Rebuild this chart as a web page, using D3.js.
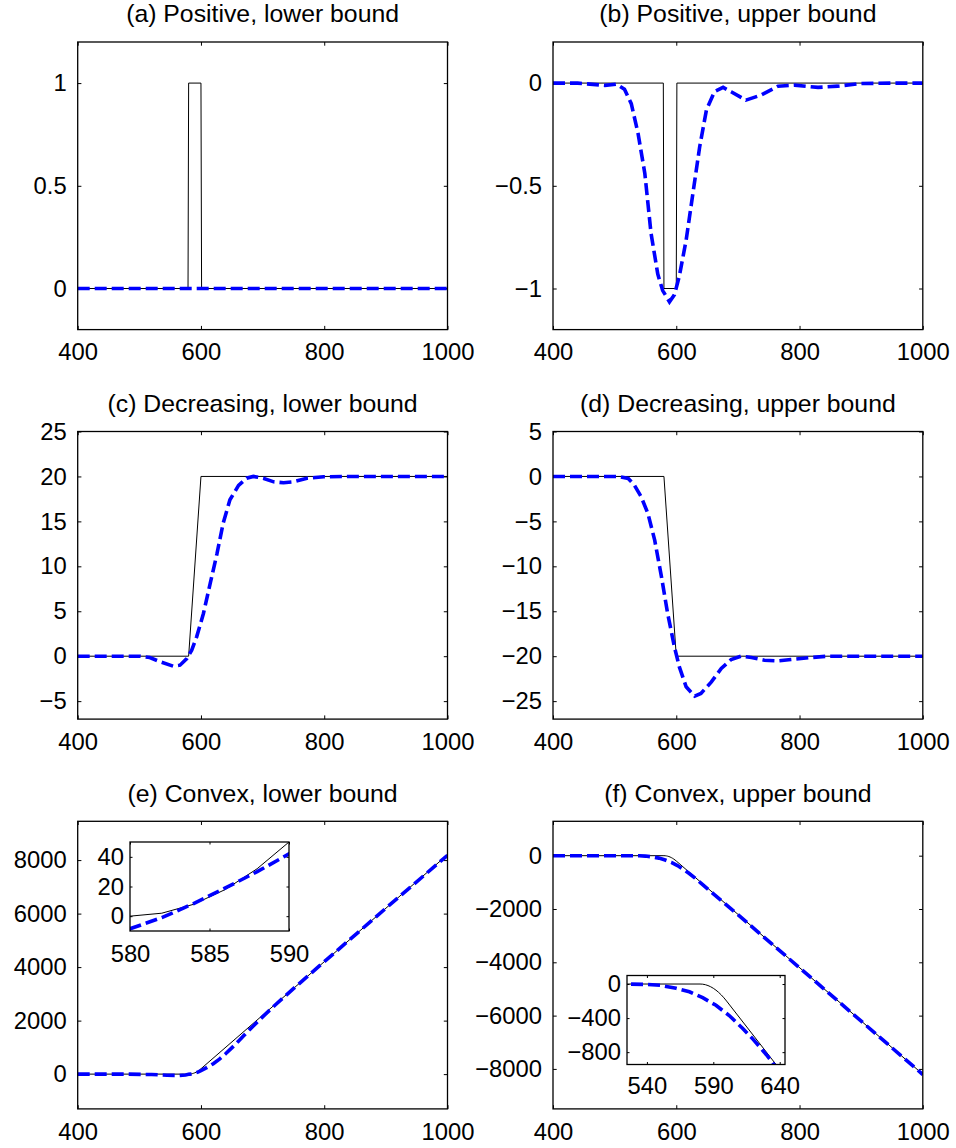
<!DOCTYPE html>
<html>
<head>
<meta charset="utf-8">
<script src="https://cdn.jsdelivr.net/npm/d3@7"></script>
<style>
  body { margin: 0; background: #fff; }
  text { font-family: "Liberation Sans", Arial, Helvetica, sans-serif; fill: #000; }
</style>
</head>
<body>
<script>
//// Six panels: true function (black) vs. bound estimate (blue dashed) ////

// (a) Positive, lower bound
const trueA = [[400, 0], [579, 0], [580, 1], [600, 1], [601, 0], [1000, 0]];
const estA = [[400, 0], [1000, 0]];

// (b) Positive, upper bound
const trueB = [[400, 0], [579, 0], [580, -1], [600, -1], [601, 0], [1000, 0]];
const estB = [[400, 0], [440, 0], [484, -0.011], [503, -0.005], [516, -0.03], [527, -0.1],
  [538, -0.245], [549, -0.44], [559, -0.73], [570, -0.93], [578, -1.01], [589, -1.065],
  [597, -1.03], [605, -0.94], [616, -0.765], [627, -0.537], [638, -0.31], [649, -0.13],
  [662, -0.042], [676, -0.021], [689, -0.042], [713, -0.083], [738, -0.058], [765, -0.015],
  [792, -0.01], [830, -0.021], [862, -0.015], [900, -0.002], [954, 0], [1000, 0]];

// (c) Decreasing, lower bound
const trueC = [[400, 0], [580, 0], [600, 20], [1000, 20]];
const estC = [[400, 0], [501, 0], [517, -0.15], [534, -0.63], [555, -1.11], [566, -1.0],
  [577, -0.26], [585, 0.67], [593, 2.15], [604, 4.75], [615, 8.1], [626, 11.4], [636, 14.8],
  [647, 17.4], [661, 19.0], [674, 19.8], [685, 20], [701, 19.8], [718, 19.4], [734, 19.3],
  [750, 19.4], [772, 19.8], [799, 19.96], [842, 20], [1000, 20]];

// (d) Decreasing, upper bound
const trueD = [[400, 0], [580, 0], [600, -20], [1000, -20]];
const estD = [[400, 0], [505, 0], [522, -0.22], [532, -0.96], [543, -2.26], [554, -4.12],
  [565, -7.09], [576, -11.17], [586, -15.25], [597, -18.96], [605, -21.19], [616, -23.4],
  [630, -24.45], [640, -24.15], [657, -22.86], [673, -21.37], [689, -20.37], [705, -20],
  [722, -20.15], [743, -20.45], [765, -20.52], [786, -20.37], [819, -20.15], [846, -20],
  [1000, -20]];

// (e) Convex, lower bound
const trueE = [[400, 0], [580, 0], [582, 2], [584, 8], [586, 18], [588, 32], [590, 50],
  [592, 72], [594, 98], [596, 128], [598, 162], [600, 200], [1000, 8200]];
const estE = [[400, 0], [480, 0], [520, -15], [545, -40], [565, -50], [575, -30], [580, -8.5],
  [582, -1], [584, 8.5], [586, 19], [588, 30], [590, 42], [595, 75], [600, 130], [610, 250],
  [620, 390], [630, 560], [640, 760], [650, 980], [660, 1210], [670, 1450], [680, 1690],
  [700, 2140], [720, 2575], [750, 3195], [800, 4200], [900, 6200], [1000, 8180]];

// (f) Convex, upper bound
const trueF = [[400, 0], [580, 0], [582, -2], [584, -8], [586, -18], [588, -32], [590, -50],
  [592, -72], [594, -98], [596, -128], [598, -162], [600, -200], [1000, -8200]];
const estF = [[400, 0], [500, 0], [525, -1], [540, -5], [550, -15], [562, -50], [572, -91],
  [582, -160], [592, -250], [602, -370], [612, -520], [620, -650], [630, -830], [640, -1030],
  [700, -2215], [800, -4205], [1000, -8210]];

// tick labels
const xTicksMain = [400, 600, 800, 1000];
const yTicksA = [0, 0.5, 1];
const yTicksB = [-1, -0.5, 0];
const yTicksC = [-5, 0, 5, 10, 15, 20, 25];
const yTicksD = [-25, -20, -15, -10, -5, 0, 5];
const yTicksE = [0, 2000, 4000, 6000, 8000];
const yTicksF = [-8000, -6000, -4000, -2000, 0];
const xTicksInsetE = [580, 585, 590];
const yTicksInsetE = [0, 20, 40];
const xTicksInsetF = [540, 590, 640];
const yTicksInsetF = [-800, -400, 0];

const titles = ["(a) Positive, lower bound", "(b) Positive, upper bound",
  "(c) Decreasing, lower bound", "(d) Decreasing, upper bound",
  "(e) Convex, lower bound", "(f) Convex, upper bound"];

const width = 956, height = 1148;
const fmt = d3.format("");

const svg = d3.select("body").append("svg")
  .attr("width", width)
  .attr("height", height);

let clipId = 0;

function drawAxes(o) {
  const g = svg.append("g").attr("transform", `translate(${o.x},${o.y})`);
  const x = d3.scaleLinear().domain(o.xDomain).range([0, o.w]);
  const y = d3.scaleLinear().domain(o.yDomain).range([o.h, 0]);

  // white background (matters for the insets)
  g.append("rect").attr("width", o.w).attr("height", o.h).attr("fill", "#fff");

  const t = o.tick, fs = 23.8;

  // bottom axis with labels, ticks pointing inward
  const gx = g.append("g").attr("transform", `translate(0,${o.h})`)
    .call(d3.axisBottom(x).tickValues(o.xTicks).tickFormat(fmt)
      .tickSizeInner(-t).tickSizeOuter(0).tickPadding(o.padX));
  // top ticks
  const gxt = g.append("g")
    .call(d3.axisTop(x).tickValues(o.xTicks).tickFormat("")
      .tickSizeInner(-t).tickSizeOuter(0));
  // left axis with labels
  const gy = g.append("g")
    .call(d3.axisLeft(y).tickValues(o.yTicks).tickFormat(fmt)
      .tickSizeInner(-t).tickSizeOuter(0).tickPadding(o.padY));
  // right ticks
  const gyr = g.append("g").attr("transform", `translate(${o.w},0)`)
    .call(d3.axisRight(y).tickValues(o.yTicks).tickFormat("")
      .tickSizeInner(-t).tickSizeOuter(0));

  [gx, gxt, gy, gyr].forEach(a => {
    a.select(".domain").remove();
    a.selectAll("line").attr("stroke", "#000").attr("stroke-width", 1);
    a.selectAll("text").attr("font-size", fs).attr("fill", "#000")
      .style("font-family", '"Liberation Sans", Arial, Helvetica, sans-serif');
  });

  const id = "clip" + (clipId++);
  g.append("clipPath").attr("id", id)
    .append("rect").attr("width", o.w).attr("height", o.h);

  const line = d3.line().x(d => x(d[0])).y(d => y(d[1]));
  const plot = g.append("g").attr("clip-path", `url(#${id})`);

  plot.append("path").datum(o.trueData)
    .attr("d", line)
    .attr("fill", "none")
    .attr("stroke", "#000")
    .attr("stroke-width", 1);

  plot.append("path").datum(o.estData)
    .attr("d", line)
    .attr("fill", "none")
    .attr("stroke", "#0000ff")
    .attr("stroke-width", 3.6)
    .attr("stroke-dasharray", "12,5");

  // box
  g.append("rect").attr("width", o.w).attr("height", o.h)
    .attr("fill", "none").attr("stroke", "#000").attr("stroke-width", 1.3);

  if (o.title) {
    g.append("text")
      .attr("x", o.w / 2)
      .attr("y", -19.6)
      .attr("text-anchor", "middle")
      .attr("font-size", 24.8)
      .text(o.title);
  }
}

const colX = [77.7, 553];
const rowY = [42, 431.5, 821.3];
const pw = 369.8, ph = 287.6;

const mainPanels = [
  { trueData: trueA, estData: estA, yDomain: [-0.2, 1.2], yTicks: yTicksA },
  { trueData: trueB, estData: estB, yDomain: [-1.2, 0.2], yTicks: yTicksB },
  { trueData: trueC, estData: estC, yDomain: [-7, 25], yTicks: yTicksC },
  { trueData: trueD, estData: estD, yDomain: [-27, 5], yTicks: yTicksD },
  { trueData: trueE, estData: estE, yDomain: [-1300, 9450], yTicks: yTicksE },
  { trueData: trueF, estData: estF, yDomain: [-9500, 1290], yTicks: yTicksF }
];

mainPanels.forEach((p, i) => {
  drawAxes(Object.assign({
    x: colX[i % 2], y: rowY[Math.floor(i / 2)], w: pw, h: ph,
    xDomain: [400, 1000], xTicks: xTicksMain,
    tick: 3.7, padX: 14, padY: 11, title: titles[i]
  }, p));
});

// insets
drawAxes({
  x: 130, y: 842, w: 159, h: 89,
  xDomain: [580, 590], yDomain: [-10, 50],
  xTicks: xTicksInsetE, yTicks: yTicksInsetE,
  trueData: trueE, estData: estE,
  tick: 2.5, padX: 14.5, padY: 6
});

drawAxes({
  x: 627, y: 975.5, w: 158, h: 89,
  xDomain: [525, 644], yDomain: [-945, 100],
  xTicks: xTicksInsetF, yTicks: yTicksInsetF,
  trueData: trueF, estData: estF,
  tick: 2.5, padX: 13, padY: 6
});
</script>
</body>
</html>
